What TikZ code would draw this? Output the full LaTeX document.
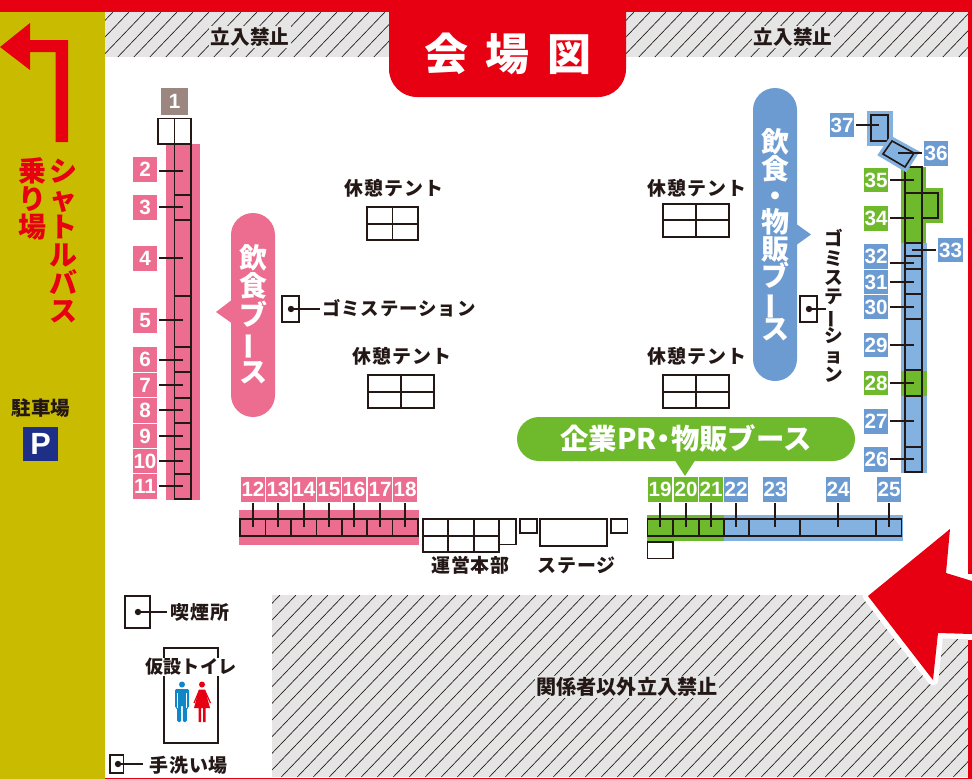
\documentclass[tikz,border=0pt]{standalone}
\usepackage{fontspec}
\setmainfont{Noto Sans CJK JP}
\newfontfamily\jpt[LetterSpace=5]{Noto Sans CJK JP}
\newfontfamily\numf{Liberation Sans}
\definecolor{mred}{HTML}{E60012}
\definecolor{olive}{HTML}{C9BC00}
\definecolor{hgray}{HTML}{E5E5E5}
\definecolor{ink}{HTML}{231815}
\definecolor{pinkc}{HTML}{EC6D8F}
\definecolor{blued}{HTML}{6C9BD2}
\definecolor{bluel}{HTML}{84B2E0}
\definecolor{greenc}{HTML}{6FBA2C}
\definecolor{brownc}{HTML}{9C8680}
\definecolor{navy}{HTML}{1D2F87}
\definecolor{manblue}{HTML}{0F86C8}
\newcommand{\vfont}[2]{\fontsize{#1}{#2}\selectfont\lineskiplimit=-100pt\bfseries}
\newcommand{\vbar}{\rotatebox[origin=c]{90}{ー}}
\newcommand{\hatchrect}[4]{%
 \begin{scope}
 \clip (#1,#2) rectangle (#3,#4);
 \fill[hgray] (#1,#2) rectangle (#3,#4);
 \pgfmathsetmacro{\hh}{#4-#2}
 \foreach \k in {0,...,70}{
  \draw[hatchline] ({#1-8+16*\k},#2) -- ({#1-8+16*\k-\hh*0.96},#4);
 }
 \end{scope}}
\tikzset{
 x=0.75pt,y=-0.75pt,
 hatchline/.style={draw=ink,line width=0.5pt},
 outl/.style={draw=ink,line width=1.2pt},
 leader/.style={draw=ink,line width=1.05pt},
 numbox/.style={minimum width=18.3pt,minimum height=18.3pt,inner sep=0pt,text=white,font=\numf\bfseries\fontsize{15.5}{16}\selectfont},
 pinkn/.style={numbox,fill=pinkc},
 bluen/.style={numbox,fill=blued},
 greenn/.style={numbox,fill=greenc},
 lab/.style={inner sep=0pt,text=ink,font=\jpt\bfseries\fontsize{14.2}{15}\selectfont},
 ban/.style={inner sep=1pt,fill=hgray,text=ink,font=\bfseries\fontsize{14.7}{15}\selectfont},
 pilltext/.style={inner sep=0pt,text=white,align=center},
}
\begin{document}
\begin{tikzpicture}
\useasboundingbox (0,0) rectangle (972,779);
\fill[white] (0,0) rectangle (972,779);
% hatched areas
\hatchrect{105}{12}{389}{57}
\hatchrect{626}{12}{968}{57}
\hatchrect{272}{595}{968}{777}
% olive strip
\fill[olive] (0,12) rectangle (105,779);
% arrow outline
\fill[white,draw=white,line width=8pt,line join=round] (868,596)--(950,529)--(946,573)--(972,581)--(972,634)--(938,633)--(933,680)--cycle;
% red frame
\fill[mred] (0,0) rectangle (972,12);
\fill[mred] (968,12) rectangle (972,574);
\fill[mred] (968,640) rectangle (972,779);
\fill[mred] (105,777.5) rectangle (972,779);
\fill[mred] (868,596)--(950,529)--(946,573)--(972,581)--(972,634)--(938,633)--(933,680)--cycle;
% title
\fill[mred] (389,10) {[rounded corners=21pt] -- (389,97) -- (626,97)} -- (626,10) -- cycle;
\node[inner sep=0pt,text=white,font=\bfseries\fontsize{33}{36}\selectfont] (title) at (508,54) {会\hspace{13pt}場\hspace{13pt}図};
% top/bottom labels
\node[ban] (nog1) at (250,37) {立入禁止};
\node[ban] (nog2) at (793,37) {立入禁止};
\node[ban,font=\bfseries\fontsize{15.1}{16}\selectfont] (nog3) at (627,687) {関係者以外立入禁止};
% shuttle arrow
\fill[mred] (68,142)--(68,40)--(30,40)--(30,23)--(0,47)--(30,70)--(30,52)--(55.5,52)--(55.5,142)--cycle;
\node[pilltext,text=mred,font=\vfont{21}{21}] (shuttle) at (64,241) {シ\\ャ\\ト\\ル\\バ\\ス};
\node[pilltext,text=mred,font=\vfont{21}{21}] (noriba) at (32,199) {乗\\り\\場};
\node[inner sep=0pt,text=ink,font=\bfseries\fontsize{14.6}{16}\selectfont] (park) at (41,408) {駐車場};
\node[fill=navy,minimum width=26pt,minimum height=25.5pt,inner sep=0pt,text=white,font=\numf\bfseries\fontsize{23}{24}\selectfont] (pbox) at (40.5,444) {P};
% left column
\fill[pinkc] (166,144) rectangle (200,500);
\node[numbox,fill=brownc,minimum width=20pt,minimum height=20pt] (n1) at (174.5,101.5) {1};
\draw[outl] (158,118.5) rectangle (191,144);
\draw[outl] (174.5,118.5) -- (174.5,144);
\draw[outl] (174.5,144) rectangle (191,499);
\foreach \y in {195,220,296,347,372,398,423,449,474}{\draw[outl] (174.5,\y) -- (191,\y);}
\foreach \i/\y/\ly in {2/169.5/171,3/207.5/207,4/258.5/258,5/320.5/320,6/359.5/360,7/385/385,8/410.5/410,9/436/436,10/461/461,11/486.5/486}{
 \node[pinkn] (n\i) at (145,\y) {\i};
 \coordinate (e\i) at (183,\ly);
 \draw[leader] (159,\ly) -- (e\i);
}
% pink pill
\fill[pinkc,rounded corners=16.5pt] (231,213) rectangle (275,417);
\fill[pinkc] (216,312)--(233,299)--(233,324)--cycle;
\node[pilltext,font=\vfont{21}{21.3}] (pinkpill) at (253,314) {飲\\食\\ブ\\\vbar\\ス};
% garbage left
\node[draw=ink,line width=1.2pt,minimum width=12.7pt,minimum height=19.5pt,inner sep=0pt] (gl) at (290.5,309) {};
\coordinate (gld) at (291,309);
\fill[ink] (gld) circle (3.2);
\node[lab,anchor=west,font=\jpt\bfseries\fontsize{13.8}{15}\selectfont] (gll) at (322,308) {ゴミステーション};
\coordinate (gle) at (320,309);
\draw[leader] (gld) -- (gle);
% tents
\node[lab] (t1) at (394,188) {休憩テント};
\draw[outl] (367,207) rectangle (418,240); \draw[outl] (367,224)--(418,224); \draw[outl] (392.5,207)--(392.5,240);
\node[lab] (t2) at (402,356) {休憩テント};
\draw[outl] (368,375) rectangle (434,408); \draw[outl] (368,392)--(434,392); \draw[outl] (401,375)--(401,408);
\node[lab] (t3) at (697,188) {休憩テント};
\draw[outl] (663,204) rectangle (729,237); \draw[outl] (663,220)--(729,220); \draw[outl] (696,204)--(696,237);
\node[lab] (t4) at (697,356) {休憩テント};
\draw[outl] (663,375) rectangle (729,408); \draw[outl] (663,392)--(729,392); \draw[outl] (696,375)--(696,408);
% row 12-18
\fill[pinkc] (239,510) rectangle (419,545);
\draw[outl] (240,519) rectangle (418,536);
\foreach \x in {265.5,291,316.5,342,367,392.5}{\draw[outl] (\x,519)--(\x,536);}
\foreach \i/\x in {12/253,13/278,14/304,15/329,16/354,17/380,18/405}{
 \node[pinkn] (n\i) at (\x,489.5) {\i};
 \coordinate (e\i) at (\x,527);
 \draw[leader] (\x,503) -- (e\i);
}
% HQ and stage
\draw[outl] (423,519) rectangle (499,552); \draw[outl] (423,536)--(499,536);
\draw[outl] (448,519)--(448,552); \draw[outl] (474,519)--(474,552);
\draw[outl] (499,519) rectangle (516,544.5);
\draw[outl] (520,519) rectangle (537,533);
\draw[outl] (540,519) rectangle (607,546);
\draw[outl] (611,519) rectangle (627.5,533);
\node[lab] (hq) at (470.5,565) {運営本部};
\node[lab] (stage) at (576.5,565) {ステージ};
% row 19-25
\fill[bluel] (723,515) rectangle (903,541);
\fill[greenc] (647,515) rectangle (724,541);
\draw[outl] (647.5,519) rectangle (901.5,536);
\foreach \x in {673,699,724,749,800,876}{\draw[outl] (\x,519)--(\x,536);}
\draw[outl] (647.5,542) rectangle (673,558.5);
\foreach \i/\x/\s in {19/660/greenn,20/686/greenn,21/711/greenn,22/736/bluen,23/775/bluen,24/838/bluen,25/889/bluen}{
 \node[\s] (n\i) at (\x,489.5) {\i};
 \coordinate (e\i) at (\x,527);
 \draw[leader] (\x,503) -- (e\i);
}
% green pill
\fill[greenc,rounded corners=16.5pt] (517,417) rectangle (855,461);
\fill[greenc] (674,459)--(696,459)--(685,476)--cycle;
\node[pilltext,font=\bfseries\fontsize{21.3}{22}\selectfont] (greenpill) at (686,438) {企業PR\kern-.25em・\kern-.25em物販ブース};
% blue pill
\fill[blued,rounded corners=16.5pt] (753,88) rectangle (797,381);
\fill[blued] (795,223)--(811,234.5)--(795,246)--cycle;
\node[pilltext,font=\vfont{21}{20}] (bluepill) at (775,235) {飲\\食\\・\\物\\販\\ブ\\\vbar\\ス};
% garbage right
\node[draw=ink,line width=1.2pt,minimum width=12.7pt,minimum height=19.5pt,inner sep=0pt] (gr) at (808.5,309) {};
\coordinate (grd) at (809,309);
\fill[ink] (grd) circle (3.2);
\coordinate (gre) at (826,309);
\draw[leader] (grd) -- (gre);
\node[pilltext,text=ink,font=\vfont{14}{14.6}] (grl) at (834,306) {ゴ\\ミ\\ス\\テ\\\vbar\\シ\\ョ\\ン};
% right column
\fill[bluel] (901,243) rectangle (927,473);
\fill[greenc] (901,167) rectangle (926,243);
\fill[greenc] (926,188) rectangle (943,223);
\fill[greenc] (901,371) rectangle (927,396);
\draw[outl] (905,167) rectangle (922,472);
\draw[outl] (922,193) rectangle (938,218);
\foreach \y in {193,243,256,269,294,319,370,396,447}{\draw[outl] (905,\y)--(922,\y);}
\foreach \i/\y/\s in {35/180/greenn,34/218.5/greenn,32/256.5/bluen,31/282/bluen,30/307/bluen,29/345/bluen,28/383/greenn,27/421.5/bluen,26/459.5/bluen}{
 \node[\s] (n\i) at (876,\y) {\i};
}
\foreach \i/\y in {35/180,34/218,32/263,31/282,30/307,29/345,28/383,27/421,26/459}{
 \coordinate (e\i) at (913.5,\y);
 \draw[leader] (890,\y) -- (e\i);
}
\node[bluen] (n33) at (950.5,250) {33};
\coordinate (e33) at (912,250);
\draw[leader] (e33) -- (936,250);
\fill[bluel] (867,111) rectangle (893,146);
\draw[outl] (871,115) rectangle (888,141);
\node[bluen] (n37) at (842,125) {37};
\coordinate (e37) at (879,125);
\draw[leader] (856,125) -- (e37);
\fill[bluel,draw=bluel,line width=6pt,line join=miter] (892,141)--(914,153)--(905,167)--(883,154)--cycle;
\draw[outl] (892,141)--(914,153)--(905,167)--(883,154)--cycle;
\node[bluen] (n36) at (936,153.5) {36};
\coordinate (e36) at (898,153);
\draw[leader] (e36) -- (922,153);
% smoking
\node[draw=ink,line width=1.2pt,minimum width=18.5pt,minimum height=24pt,inner sep=0pt] (smk) at (137.5,612) {};
\coordinate (smkd) at (138,612);
\fill[ink] (smkd) circle (3.2);
\coordinate (smke) at (167,612);
\node[lab,anchor=west] (smkl) at (170,612) {喫煙所};
\draw[leader] (smkd) -- (smke);
% toilet
\node[draw=ink,line width=1.2pt,minimum width=40.5pt,minimum height=71.2pt,inner sep=0pt] (wc) at (191,695.5) {};
\fill[white] (146,658) rectangle (236,676);
\node[inner sep=0pt,text=ink,font=\bfseries\fontsize{13.6}{15}\selectfont] (wcl) at (191,667) {仮設トイレ};
\fill[manblue] (182,684.5) circle (3);
\fill[manblue,rounded corners=1pt] (175,689)--(189,689)--(189,708)--(186.8,708)--(186.8,722)--(182.8,722)--(182.8,705)--(181.2,705)--(181.2,722)--(177.2,722)--(177.2,708)--(175,708)--cycle;
\draw[white,line width=0.3pt] (177.4,693)--(177.4,708) (186.6,693)--(186.6,708);
\fill[mred] (202,684.5) circle (3);
\fill[mred] (199,689.5)--(205,689.5)--(210,708)--(205.5,708)--(205.5,722)--(203,722)--(203,708)--(201,708)--(201,722)--(198.5,722)--(198.5,708)--(194,708)--cycle;
\draw[mred,line width=0.9pt] (199.5,690)--(194,703) (204.5,690)--(210.5,703);
% handwash
\node[draw=ink,line width=1.2pt,minimum width=10.2pt,minimum height=13.5pt,inner sep=0pt] (hw) at (116.8,764) {};
\coordinate (hwd) at (118,764);
\fill[ink] (hwd) circle (3.2);
\coordinate (hwe) at (143,764);
\node[lab,anchor=west] (hwl) at (149,765) {手洗い場};
\draw[leader] (hwd) -- (hwe);
\end{tikzpicture}
\end{document}
